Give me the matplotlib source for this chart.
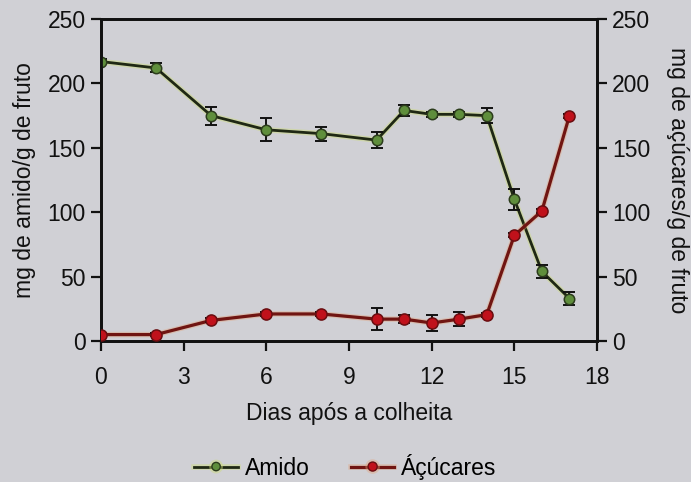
import matplotlib

matplotlib.use("Agg")
import matplotlib.pyplot as plt
import matplotlib.patheffects as pe
from matplotlib.lines import Line2D

plt.rcParams["font.family"] = ["Liberation Sans", "DejaVu Sans"]

# Days after harvest and measured contents (mg per g of fruit)
dias = [0, 2, 4, 6, 8, 10, 11, 12, 13, 14, 15, 16, 17]
amido = [217, 212, 175, 164, 161, 156, 179, 176, 176, 175, 110, 54, 33]
amido_err = [2, 3.5, 7, 9, 5.5, 6, 4, 2, 2, 6, 8, 5, 5]
acucares = [5, 5, 16, 21, 21, 17, 17, 14, 17, 20.5, 82, 101, 175]
acucares_err = [1, 1, 1.5, 1.5, 1.5, 8.5, 3, 6.5, 5.5, 1.5, 1.5, 1.5, 1.5]

x_ticks = [0, 3, 6, 9, 12, 15, 18]
y_ticks = [0, 50, 100, 150, 200, 250]

BG = "#d0d0d5"
INK = "#111111"
GREEN = "#5f8e3c"
GREEN_EDGE = "#2c3c1c"
GREEN_LINE = "#1f2814"
RED = "#c0111b"
RED_EDGE = "#6a0d10"
RED_LINE = "#701512"
FS = 16.5

fig = plt.figure(figsize=(6.91, 4.82), dpi=100)
fig.set_facecolor(BG)
ax = fig.add_axes([0.146, 0.2925, 0.718, 0.668])
ax.set_facecolor(BG)
ax2 = ax.twinx()

# faint coloured fringe along the connecting lines
glow_g = [pe.Stroke(linewidth=4, foreground="#cddc78", alpha=0.45), pe.Normal()]
glow_r = [pe.Stroke(linewidth=4, foreground="#e3a27a", alpha=0.4), pe.Normal()]

ax.plot(dias, amido, color=GREEN_LINE, linewidth=2, zorder=2,
        path_effects=glow_g)
ax.errorbar(dias, amido, yerr=amido_err, fmt="none", ecolor=INK,
            elinewidth=1.4, capsize=4, capthick=1.4, zorder=2)
ax.plot(dias, amido, linestyle="none", marker="o", markersize=7.5,
        markerfacecolor=GREEN, markeredgecolor=GREEN_EDGE,
        markeredgewidth=1.1, zorder=3)

ax2.plot(dias, acucares, color=RED_LINE, linewidth=2.3, zorder=2,
         path_effects=glow_r)
ax2.errorbar(dias, acucares, yerr=acucares_err, fmt="none", ecolor=INK,
             elinewidth=1.4, capsize=4, capthick=1.4, zorder=2)
ax2.plot(dias, acucares, linestyle="none", marker="o", markersize=8,
         markerfacecolor=RED, markeredgecolor=RED_EDGE,
         markeredgewidth=1.1, zorder=3)

for a in (ax, ax2):
    a.set_xlim(0, 18)
    a.set_ylim(0, 250)
    a.set_yticks(y_ticks)
    for side in a.spines:
        a.spines[side].set_linewidth(2)
        a.spines[side].set_color(INK)
    a.tick_params(direction="out", length=7, width=1.6, colors=INK,
                  labelsize=FS, pad=4)

ax.set_xticks(x_ticks)
ax.tick_params(axis="x", pad=11)
ax.set_xlabel("Dias após a colheita", fontsize=FS, color=INK, labelpad=9)
ax.set_ylabel("mg de amido/g de fruto", fontsize=FS, color=INK, labelpad=8)
ax2.set_ylabel("mg de açúcares/g de fruto", fontsize=FS, color=INK,
               rotation=270, labelpad=28)

handles = [
    Line2D([], [], color=GREEN_LINE, linewidth=2, marker="o", markersize=6,
           markerfacecolor=GREEN, markeredgecolor=GREEN_EDGE,
           path_effects=glow_g, label="Amido"),
    Line2D([], [], color=RED_LINE, linewidth=2.3, marker="o", markersize=6.5,
           markerfacecolor=RED, markeredgecolor=RED_EDGE,
           path_effects=glow_r, label="Áçúcares"),
]
fig.legend(handles=handles, loc="center", bbox_to_anchor=(0.5, 0.032),
           ncol=2, frameon=False, fontsize=FS, handlelength=1.9,
           columnspacing=1.8, handletextpad=0.3)

fig.savefig("out.png", facecolor=BG)
